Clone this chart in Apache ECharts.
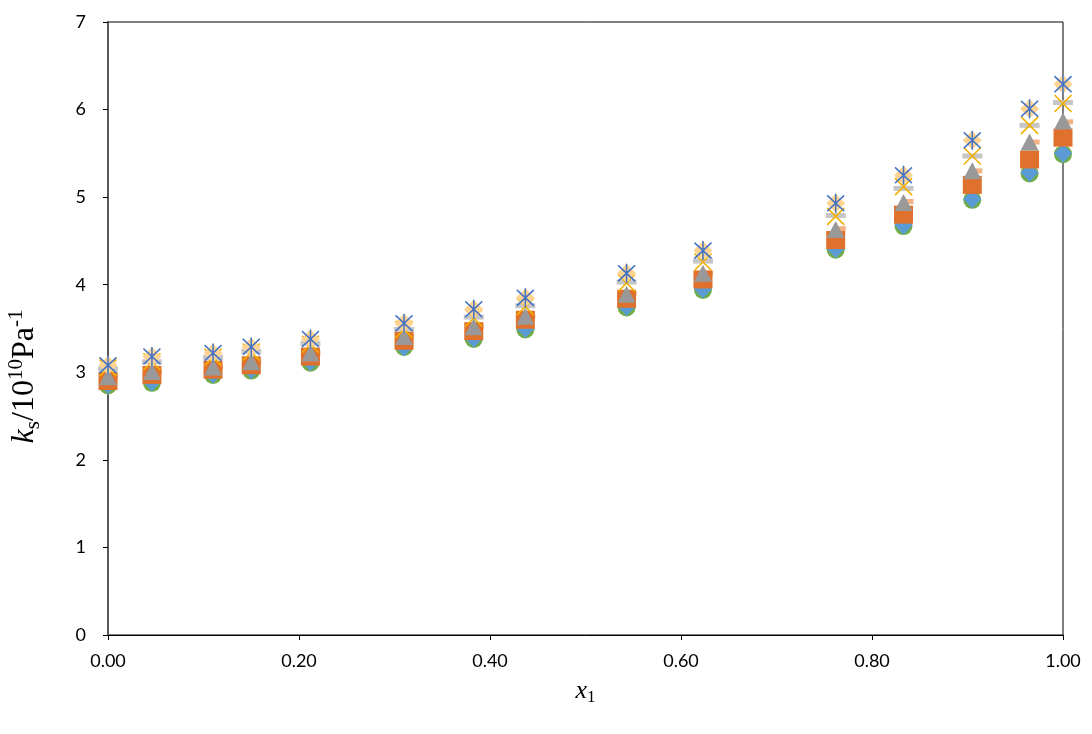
<!DOCTYPE html>
<html><head><meta charset="utf-8">
<script src="https://cdn.jsdelivr.net/npm/echarts@6/dist/echarts.min.js"></script>
<style>html,body{margin:0;padding:0;background:#fff}#c{width:1092px;height:734px}</style>
</head><body><div id="c"></div>
<script>
const xValues = [0, 0.046, 0.110, 0.150, 0.212, 0.310, 0.383, 0.437, 0.543, 0.623, 0.762, 0.833, 0.905, 0.965, 1.000];
const circleVals = [2.85, 2.88, 2.97, 3.02, 3.11, 3.29, 3.38, 3.49, 3.74, 3.94, 4.40, 4.67, 4.97, 5.27, 5.49];
const blueDiamondVals = [2.86, 2.89, 2.98, 3.03, 3.12, 3.29, 3.39, 3.50, 3.75, 3.95, 4.41, 4.68, 4.98, 5.28, 5.50];
const salmonDashVals = [2.95, 3.01, 3.06, 3.12, 3.22, 3.41, 3.52, 3.64, 3.90, 4.13, 4.64, 4.95, 5.30, 5.63, 5.86];
const squareVals = [2.90, 2.97, 3.03, 3.08, 3.18, 3.36, 3.47, 3.60, 3.84, 4.06, 4.51, 4.80, 5.14, 5.43, 5.68];
const triangleVals = [2.95, 3.01, 3.06, 3.12, 3.22, 3.41, 3.52, 3.64, 3.89, 4.13, 4.63, 4.94, 5.30, 5.63, 5.87];
const grayDashVals = [3.04, 3.12, 3.17, 3.24, 3.33, 3.49, 3.63, 3.76, 4.03, 4.27, 4.79, 5.10, 5.47, 5.82, 6.08];
const yellowXVals = [3.05, 3.12, 3.17, 3.23, 3.32, 3.49, 3.62, 3.75, 4.02, 4.26, 4.78, 5.12, 5.47, 5.82, 6.07];
const peachDiamondVals = [3.08, 3.18, 3.22, 3.29, 3.38, 3.56, 3.72, 3.85, 4.13, 4.39, 4.93, 5.25, 5.65, 6.01, 6.29];
const starVals = [3.08, 3.18, 3.22, 3.29, 3.38, 3.56, 3.72, 3.85, 4.13, 4.39, 4.93, 5.25, 5.65, 6.01, 6.29];
const xTickLabels = ['0.00','0.20','0.40','0.60','0.80','1.00'];
const yTickLabels = ['0','1','2','3','4','5','6','7'];

const pair = v => xValues.map((x,i)=>[x, v[i]]);
const X_PATH = 'path://M0 0 L10 10 M10 0 L0 10';
const STAR_PATH = 'path://M0 0 L10 10 M10 0 L0 10 M5 -1 L5 11';

function filled(name, vals, symbol, size, color, z, extra) {
  return Object.assign({
    name, type:'scatter', data: pair(vals), symbol, symbolSize: size, z,
    itemStyle:{color, opacity:1}
  }, extra||{});
}
function stroked(name, vals, path, size, color, z, w) {
  return {
    name, type:'scatter', data: pair(vals), symbol: path, symbolSize: size, z,
    itemStyle:{color:'rgba(0,0,0,0)', borderColor: color, borderWidth: w, opacity:1}
  };
}

const chart = echarts.init(document.getElementById('c'), null, {renderer:'canvas'});
chart.setOption({
  animation:false,
  backgroundColor:'#fff',
  grid:{left:108, right:29, top:22, bottom:99, containLabel:false, outerBoundsMode:'none',
        show:true, borderColor:'#000', borderWidth:1, backgroundColor:'transparent'},
  xAxis:{
    type:'value', min:0, max:1, interval:0.2,
    name:'{i|x}{sub|1}', nameLocation:'middle', nameGap:42,
    nameTextStyle:{rich:{
      i:{fontFamily:'Liberation Serif', fontStyle:'italic', fontSize:26, color:'#000'},
      sub:{fontFamily:'Liberation Serif', fontSize:17, color:'#000', padding:[12,0,0,0]}
    }},
    axisLine:{onZero:false, lineStyle:{color:'#000', width:1}},
    axisTick:{show:true, length:5, inside:false, lineStyle:{color:'#000'}},
    splitLine:{show:false},
    axisLabel:{fontFamily:'Lato', fontSize:18, color:'#000', margin:17,
      formatter: v => xTickLabels[Math.round(v/0.2)] }
  },
  yAxis:{
    type:'value', min:0, max:7, interval:1,
    name:'{i|k}{sub|s}{n|/10}{sup|10}{n|Pa}{sup|-1}', nameLocation:'middle', nameGap:64, nameRotate:90,
    nameTextStyle:{padding:[0,96,0,0], rich:{
      i:{fontFamily:'Liberation Serif', fontStyle:'italic', fontSize:32, color:'#000'},
      n:{fontFamily:'Liberation Serif', fontSize:32, color:'#000'},
      sub:{fontFamily:'Liberation Serif', fontSize:21, color:'#000', padding:[17,0,0,0]},
      sup:{fontFamily:'Liberation Serif', fontSize:21, color:'#000', padding:[0,0,17,0]}
    }},
    axisLine:{show:true, onZero:false, lineStyle:{color:'#595959', width:2}},
    axisTick:{show:true, length:5, lineStyle:{color:'#000'}},
    splitLine:{show:false},
    axisLabel:{fontFamily:'Lato', fontSize:18, color:'#000', margin:22,
      formatter: v => yTickLabels[Math.round(v)] }
  },
  series:[
    filled('circle', circleVals, 'circle', 18, '#70AD47', 1),
    filled('blueDiamond', blueDiamondVals, 'diamond', [18,19], '#5B9BD5', 2),
    filled('salmonDash', salmonDashVals, 'rect', [10,5], '#F4B183', 3, {symbolOffset:[5,0]}),
    filled('square', squareVals, 'rect', [19,18], '#E0712C', 4),
    filled('triangle', triangleVals, 'triangle', [18,17], '#999999', 5),
    filled('grayDash', grayDashVals, 'rect', [20,5], '#C6C6C6', 6),
    stroked('yellowX', yellowXVals, X_PATH, [17,17], '#F2B000', 7, 1.6),
    filled('peachDiamond', peachDiamondVals, 'diamond', [19,19], '#FFD493', 8),
    stroked('star', starVals, STAR_PATH, [17,19], '#4472C4', 9, 1.6)
  ]
});
</script></body></html>
